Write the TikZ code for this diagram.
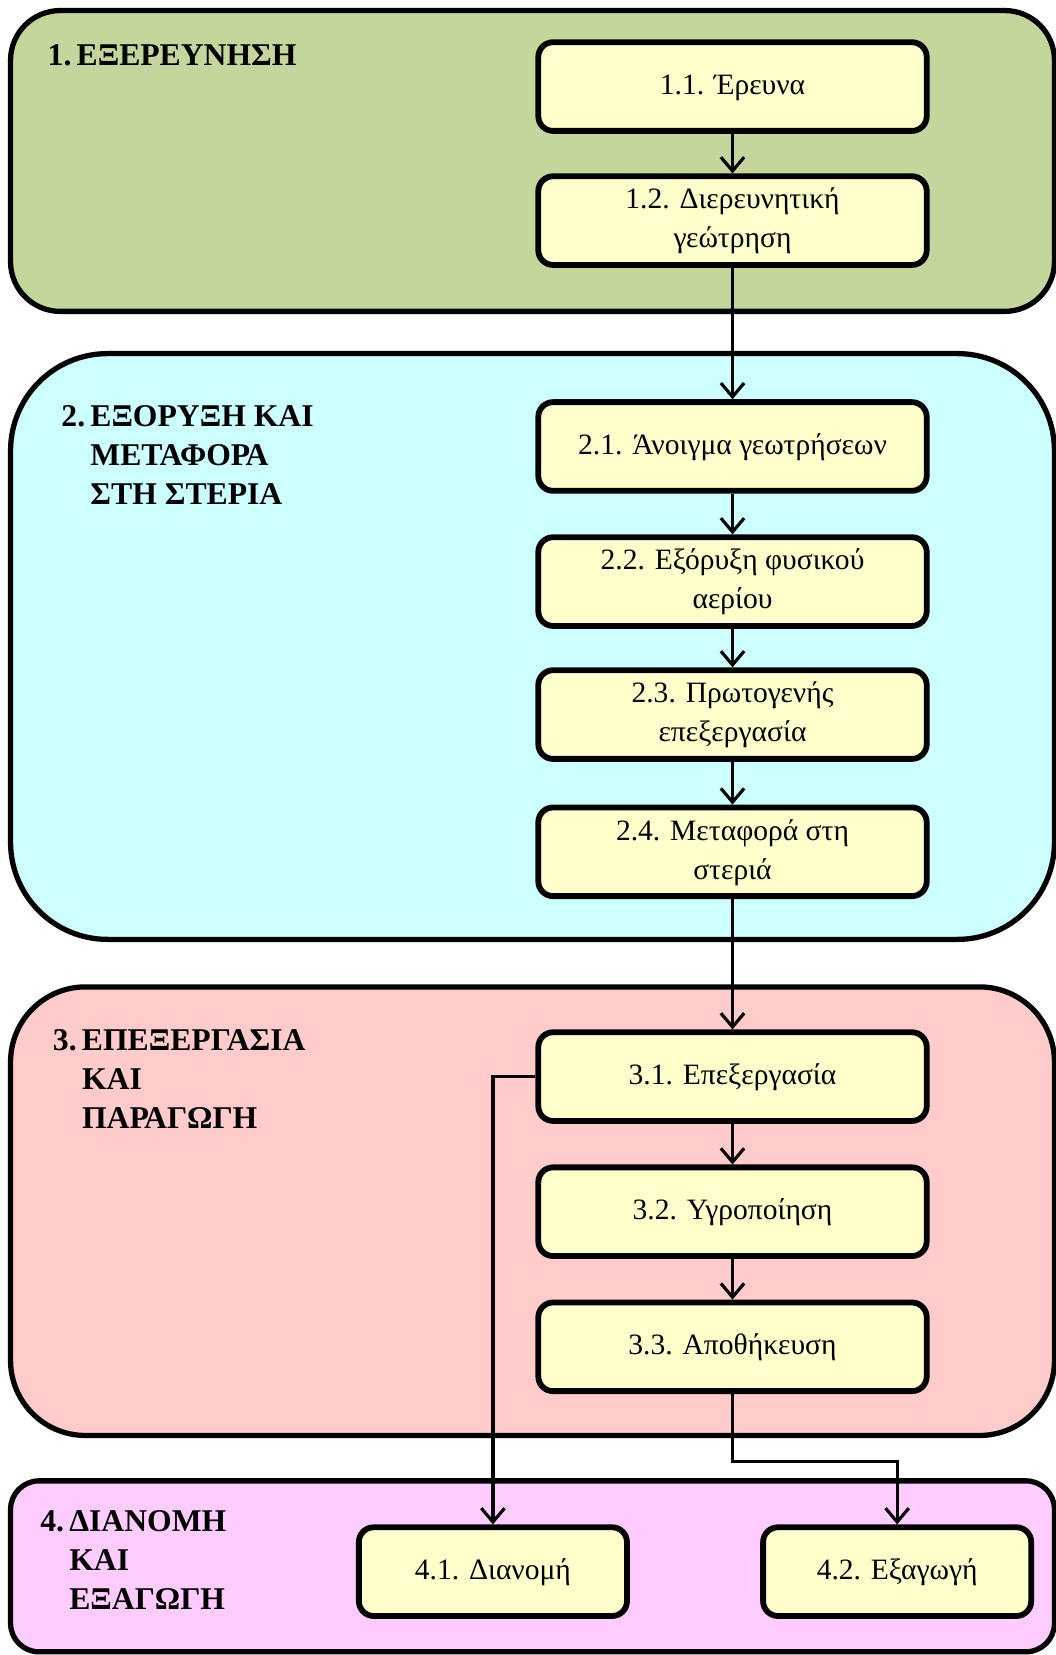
\documentclass[tikz,border=0pt]{standalone}
\usepackage{fontspec}
\setmainfont{Liberation Serif}
\usetikzlibrary{arrows.meta,calc}
\definecolor{pgreen}{HTML}{C3D69B}
\definecolor{pcyan}{HTML}{CCFFFF}
\definecolor{ppink}{HTML}{FFCBCB}
\definecolor{pmag}{HTML}{FFCCFF}
\definecolor{boxy}{HTML}{FFFFCC}
\newcommand{\bxt}[1]{\raisebox{-3.5pt}{\begin{tabular}{@{}c@{}}#1\end{tabular}}}
\begin{document}
\begin{tikzpicture}[x=1pt,y=-1pt,
  panel/.style={draw=black, line width=5pt, rounded corners=#1},
  stepbox/.style={draw=black, line width=5.5pt, fill=boxy, rounded corners=14pt,
    minimum width=368pt, minimum height=84pt, align=center, inner sep=0pt,
    font=\fontsize{28}{37}\selectfont},
  smallbox/.style={stepbox, minimum width=254pt},
  title/.style={anchor=base west, inner sep=0pt, font=\fontsize{30}{37}\selectfont\bfseries},
  conn/.style={line width=3pt, -{Straight Barb[length=13pt,width=22pt]}}
]
\useasboundingbox (0,0) rectangle (1000,1568);
% panels
\draw[panel=47, fill=pgreen] (10,10) rectangle (999,295);
\draw[panel=92, fill=pcyan] (10,335) rectangle (999,890);
\draw[panel=71, fill=ppink] (10,935) rectangle (999,1360);
\draw[panel=27, fill=pmag] (10,1403) rectangle (999,1565);
% titles
\node[title] (t1) at (45,62) {\begin{tabular}[t]{@{}l@{\,}l@{}}1. & ΕΞΕΡΕΥΝΗΣΗ\end{tabular}};
\node[title] (t2) at (58,404) {\begin{tabular}[t]{@{}l@{\,}l@{}}2. & ΕΞΟΡΥΞΗ ΚΑΙ\\ & ΜΕΤΑΦΟΡΑ\\ & ΣΤΗ ΣΤΕΡΙΑ\end{tabular}};
\node[title] (t3) at (50,995) {\begin{tabular}[t]{@{}l@{\,}l@{}}3. & ΕΠΕΞΕΡΓΑΣΙΑ\\ & ΚΑΙ\\ & ΠΑΡΑΓΩΓΗ\end{tabular}};
\node[title] (t4) at (38,1451) {\begin{tabular}[t]{@{}l@{\,}l@{}}4. & ΔΙΑΝΟΜΗ\\ & ΚΑΙ\\ & ΕΞΑΓΩΓΗ\end{tabular}};
% boxes
\node[stepbox] (b11) at (694,82) {\bxt{1.1. Έρευνα}};
\node[stepbox] (b12) at (694,209) {\bxt{1.2. Διερευνητική\\γεώτρηση}};
\node[stepbox] (b21) at (694,423) {\bxt{2.1. Άνοιγμα γεωτρήσεων}};
\node[stepbox] (b22) at (694,551) {\bxt{2.2. Εξόρυξη φυσικού\\αερίου}};
\node[stepbox] (b23) at (694,677) {\bxt{2.3. Πρωτογενής\\επεξεργασία}};
\node[stepbox] (b24) at (694,807) {\bxt{2.4. Μεταφορά στη\\στεριά}};
\node[stepbox] (b31) at (694,1020) {\bxt{3.1. Επεξεργασία}};
\node[stepbox] (b32) at (694,1148) {\bxt{3.2. Υγροποίηση}};
\node[stepbox] (b33) at (694,1276) {\bxt{3.3. Αποθήκευση}};
\node[smallbox] (b41) at (467,1489) {\bxt{4.1. Διανομή}};
\node[smallbox] (b42) at (850,1489) {\bxt{4.2. Εξαγωγή}};
% connectors
\draw[conn] (b11) -- (b12);
\draw[conn] (b12) -- (b21);
\draw[conn] (b21) -- (b22);
\draw[conn] (b22) -- (b23);
\draw[conn] (b23) -- (b24);
\draw[conn] (b24) -- (b31);
\draw[conn] (b31) -- (b32);
\draw[conn] (b32) -- (b33);
\draw[conn] (b31.west) -| (b41.north);
\coordinate (bend) at ($(b33.south)+(0,64)$);
\draw[conn] (b33.south) |- (b42.north |- bend) -- (b42.north);
\end{tikzpicture}
\end{document}
